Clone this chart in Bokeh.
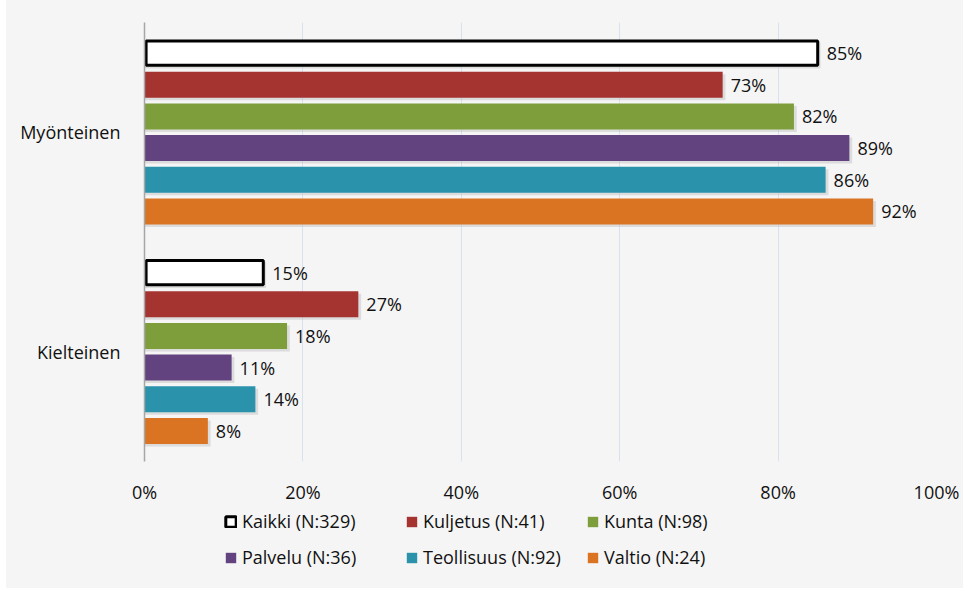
from bokeh.plotting import figure
from bokeh.models import (FactorRange, Range1d, ColumnDataSource, Legend, LegendItem,
                          PrintfTickFormatter, FixedTicker, Spacer)
from bokeh.layouts import column, row
from bokeh.transform import dodge
from bokeh.core.properties import value
from bokeh.embed import file_html
from bokeh.resources import INLINE

groups = ["Myönteinen", "Kielteinen"]
series = ["Kaikki (N:329)", "Kuljetus (N:41)", "Kunta (N:98)",
          "Palvelu (N:36)", "Teollisuus (N:92)", "Valtio (N:24)"]
myonteinen = [85, 73, 82, 89, 86, 92]
kielteinen = [15, 27, 18, 11, 14, 8]
x_ticks = [0, 20, 40, 60, 80, 100]

fills = ["#ffffff", "#a53330", "#7e9e3c", "#62427f", "#2a92ab", "#da7322"]
lines = ["#000000", None, None, None, None, None]

FONT = "Open Sans"
FS = "18px"
BG = "#f5f5f5"

p = figure(width=957, height=500, output_backend="svg", toolbar_location=None,
           y_range=FactorRange(factors=["Kielteinen", "Myönteinen"], range_padding=0),
           x_range=Range1d(0, 100),
           background_fill_color=BG, border_fill_color=BG,
           outline_line_color=None,
           min_border_left=138, min_border_right=27, min_border_top=16, min_border_bottom=45)

pitch = 0.1444
bar_h = 0.1185
shadow_dy = 2.5 / 219.5

# legend strip below the chart: same series, hidden renderers so only the swatches show
leg = figure(width=957, height=82, output_backend="svg", toolbar_location=None,
             x_range=Range1d(-200, -100),
             y_range=FactorRange(factors=["Kielteinen", "Myönteinen"], range_padding=0),
             background_fill_color=BG, border_fill_color=BG, outline_line_color=None,
             min_border_left=138, min_border_right=27, min_border_top=0, min_border_bottom=0)
leg.axis.visible = False
leg.grid.visible = False

items = []
for i, name in enumerate(series):
    src = ColumnDataSource(dict(group=groups, val=[myonteinen[i], kielteinen[i]],
                                shadow=[myonteinen[i] + 0.35, kielteinen[i] + 0.35],
                                lab=[f"{myonteinen[i]}%", f"{kielteinen[i]}%"]))
    off = (2.5 - i) * pitch
    p.hbar(y=dodge("group", off - shadow_dy, range=p.y_range), right="shadow", height=bar_h,
           source=src, fill_color="#b0b0b0", fill_alpha=0.35, line_color=None)
    if lines[i]:
        p.hbar(y=dodge("group", off, range=p.y_range), right="val", height=bar_h - 0.008,
               left=0.2, source=src, fill_color=fills[i], line_color=lines[i], line_width=3)
    else:
        p.hbar(y=dodge("group", off, range=p.y_range), right="val", height=bar_h,
               source=src, fill_color=fills[i], line_color=None)
    p.text(x="val", y=dodge("group", off, range=p.y_range), text="lab", source=src,
           x_offset=8 if i else 9, text_baseline="middle", text_align="left",
           text_font=value(FONT), text_font_size=FS, text_color="#111111")
    r = leg.hbar(y="group", right="val", height=bar_h, source=src, fill_color=fills[i],
                 line_color=lines[i] if lines[i] else None, line_width=3 if lines[i] else 1)
    r.visible = False
    items.append(LegendItem(label=name, renderers=[r]))

# legend fills column by column: reorder so rows read like the reference
order = [0, 3, 1, 4, 2, 5]
items = [items[k] for k in order]

p.xaxis.ticker = FixedTicker(ticks=x_ticks)
p.xaxis.formatter = PrintfTickFormatter(format="%d%%")
p.xaxis.axis_line_color = None
p.xaxis.major_tick_line_color = None
p.xaxis.minor_tick_line_color = None
p.xaxis.major_label_standoff = 12
p.xaxis.major_label_text_font = FONT
p.xaxis.major_label_text_font_size = FS
p.xaxis.major_label_text_color = "#111111"

p.yaxis.axis_line_color = "#a6a6a6"
p.yaxis.axis_line_width = 1.5
p.yaxis.major_tick_line_color = None
p.yaxis.minor_tick_line_color = None
p.yaxis.major_label_standoff = 18
p.yaxis.major_label_text_font = FONT
p.yaxis.major_label_text_font_size = FS
p.yaxis.major_label_text_color = "#111111"

p.xgrid.grid_line_color = "#d8e2ee"
p.xgrid.ticker = FixedTicker(ticks=x_ticks)
p.ygrid.grid_line_color = None

legend = Legend(items=items, ncols=3, location=(80, 19), click_policy="none",
                background_fill_alpha=0, border_line_color=None,
                glyph_width=13, glyph_height=13, label_text_font=FONT,
                label_text_font_size=FS, label_text_color="#111111",
                label_height=21, label_width=151,
                padding=0, margin=0, spacing=12, label_standoff=5)
leg.add_layout(legend)

inner = column(Spacer(height=6), p, leg, spacing=0)
inner.styles = {"background-color": BG}
layout = row(Spacer(width=6), inner)
open("out.html", "w").write(file_html(layout, INLINE))
